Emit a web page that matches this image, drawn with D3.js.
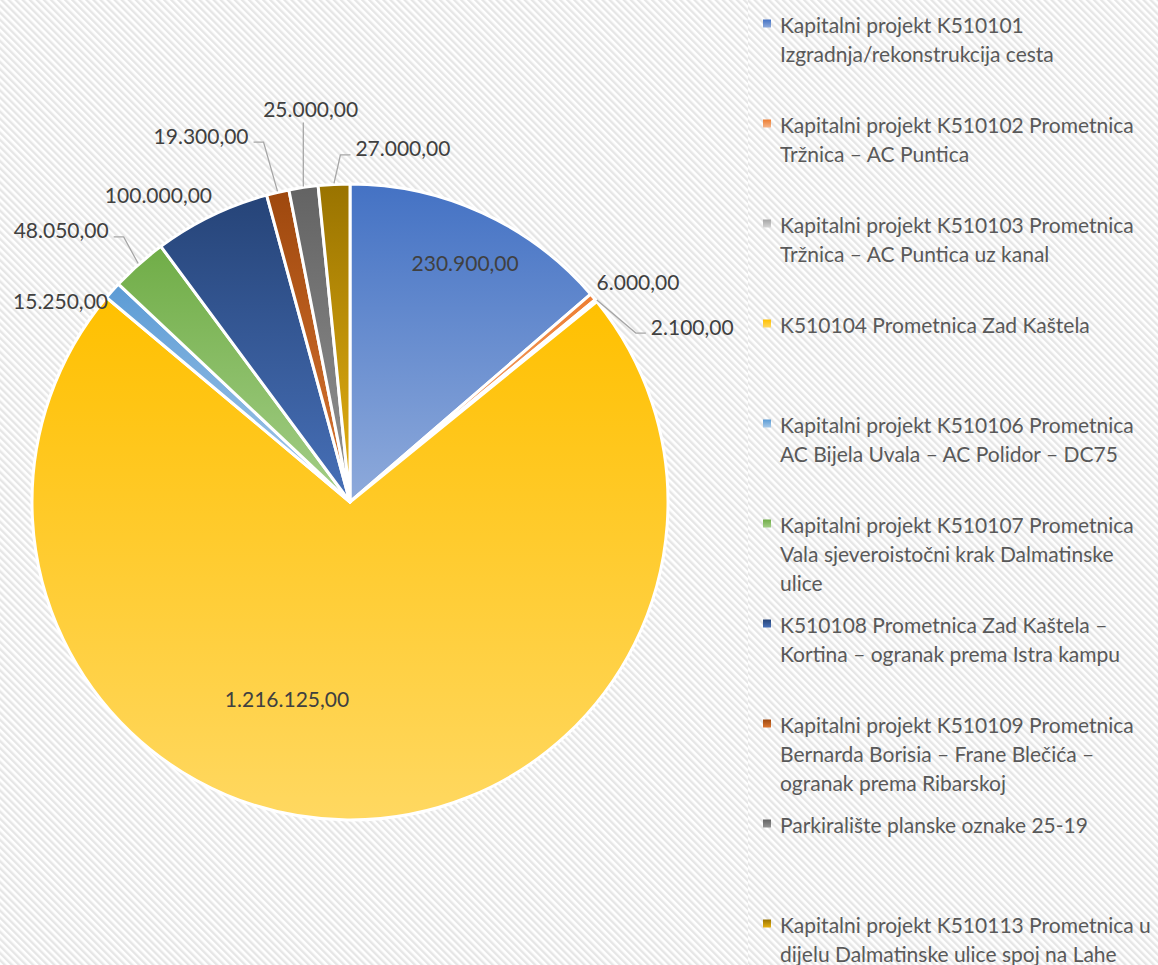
<!DOCTYPE html>
<html>
<head>
<meta charset="utf-8">
<script src="https://cdn.jsdelivr.net/npm/d3@7"></script>
<style>
  body { margin: 0; background: #fff; }
  svg { display: block; }
</style>
</head>
<body>
<div id="chart-container"></div>
<script>
const width = 1158;
const height = 965;

// Data.
const categories = [
    "Kapitalni projekt K510101 Izgradnja/rekonstrukcija cesta",
    "Kapitalni projekt K510102 Prometnica Tržnica – AC Puntica",
    "Kapitalni projekt K510103 Prometnica Tržnica – AC Puntica uz kanal",
    "K510104 Prometnica Zad Kaštela",
    "Kapitalni projekt K510106 Prometnica AC Bijela Uvala – AC Polidor – DC75",
    "Kapitalni projekt K510107 Prometnica Vala sjeveroistočni krak Dalmatinske ulice",
    "K510108 Prometnica Zad Kaštela – Kortina – ogranak prema Istra kampu",
    "Kapitalni projekt K510109 Prometnica Bernarda Borisia – Frane Blečića – ogranak prema Ribarskoj",
    "Parkiralište planske oznake 25-19",
    "Kapitalni projekt K510113 Prometnica u dijelu Dalmatinske ulice spoj na Lahe"
];
const values = [230900, 6000, 2100, 1216125, 15250, 48050, 100000, 19300, 25000, 27000];
const colors = ["#4472C4", "#ED7D31", "#A5A5A5", "#FFC000", "#5B9BD5",
                "#70AD47", "#264478", "#9E480E", "#636363", "#997300"];

// Label placement: angle (deg, clockwise from 12 o'clock), radius factor, leader line.
const labelAngle = [25.7, 52.6, 62.8, 197.8, 304.9, 313.3, 328.1, 337.9, 354.3, 8.5];
const labelRadius = [0.835, 1.14, 1.21, 0.648, 1.11, 1.248, 1.14, 1.245, 1.245, 1.126];
const labelLeader = [false, false, true, false, false, true, false, true, true, true];

const fmt = d3.formatLocale({ decimal: ",", thousands: ".", grouping: [3], currency: ["", ""] })
    .format(",.2f");

const svg = d3.select("#chart-container")
    .append("svg")
    .attr("width", width)
    .attr("height", height)
    .style("font-family", "Lato, 'Open Sans', sans-serif");

const defs = svg.append("defs");

// Hatched background.
function addHatch(id, shift) {
    const p = defs.append("pattern")
        .attr("id", id)
        .attr("patternUnits", "userSpaceOnUse")
        .attr("width", 5)
        .attr("height", 5)
        .attr("patternTransform", `rotate(-45) translate(${shift},0)`);
    p.append("rect").attr("width", 5).attr("height", 5).attr("fill", "#ffffff");
    p.append("rect").attr("width", 2.4).attr("height", 5).attr("fill", "#e6e6e6");
}
addHatch("hatch", 0);
addHatch("hatch2", 2.5);

svg.append("rect").attr("width", width).attr("height", height).attr("fill", "url(#hatch)");
svg.append("rect").attr("x", 748).attr("width", width - 748).attr("height", height)
    .attr("fill", "url(#hatch2)");

// Per-slice vertical gradients, darker on top.
colors.forEach((c, i) => {
    const light = d3.hsl(c);
    light.l = Math.min(0.9, light.l + 0.19);
    if (light.l < 0.55) light.s *= 0.85;
    const g = defs.append("linearGradient")
        .attr("id", "grad" + i)
        .attr("x1", 0).attr("y1", 0).attr("x2", 0).attr("y2", 1);
    g.append("stop").attr("offset", "0%").attr("stop-color", c);
    g.append("stop").attr("offset", "100%").attr("stop-color", light.formatHex());
});

const cx = 350, cy = 502, radius = 318;

const pie = d3.pie().sort(null).value((d) => d)(values);
const arc = d3.arc().innerRadius(0).outerRadius(radius);

const g = svg.append("g").attr("transform", `translate(${cx},${cy})`);

g.selectAll(".slice")
    .data(pie)
    .enter()
    .append("path")
    .attr("class", "slice")
    .attr("d", arc)
    .attr("fill", (d, i) => `url(#grad${i})`)
    .attr("stroke", "#ffffff")
    .attr("stroke-width", 3)
    .attr("stroke-linejoin", "round");

// Data labels.
const polar = (deg, r) => {
    const a = deg * Math.PI / 180;
    return [r * Math.sin(a), -r * Math.cos(a)];
};

const labels = g.selectAll(".label")
    .data(pie)
    .enter()
    .append("text")
    .attr("class", "label")
    .attr("x", (d, i) => polar(labelAngle[i], labelRadius[i] * radius)[0])
    .attr("y", (d, i) => polar(labelAngle[i], labelRadius[i] * radius)[1])
    .attr("text-anchor", "middle")
    .attr("dominant-baseline", "central")
    .attr("fill", "#404040")
    .style("font-size", "21px")
    .text((d) => fmt(d.value));

// Leader lines.
labels.each(function (d, i) {
    if (!labelLeader[i]) return;
    const box = this.getBBox();
    const mid = (d.startAngle + d.endAngle) / 2 * 180 / Math.PI;
    const [px, py] = polar(mid, radius + 1);
    const lcx = box.x + box.width / 2;
    let pts;
    if (Math.abs(px - lcx) < box.width / 2 - 10) {
        pts = [[px, box.y + box.height + 2], [px, py]];
    } else if (px > lcx) {
        const ax = box.x + box.width + 5, ay = box.y + box.height / 2 + 7;
        pts = [[ax, ay], [ax + 10, ay], [px, py]];
    } else {
        const ax = box.x - 5, ay = box.y + box.height / 2 + 7;
        pts = [[ax, ay], [ax - 10, ay], [px, py]];
    }
    g.append("path")
        .attr("d", d3.line()(pts))
        .attr("fill", "none")
        .attr("stroke", "#a6a6a6")
        .attr("stroke-width", 1.3);
});

// Legend.
const legend = svg.append("g")
    .attr("transform", "translate(763,24)")
    .style("font-size", "21px")
    .attr("fill", "#595959");

const maxTextWidth = 375;
const lineHeight = 29;

categories.forEach((name, i) => {
    const item = legend.append("g").attr("transform", `translate(0,${i * 100})`);
    item.append("rect")
        .attr("x", 0).attr("y", -4.5)
        .attr("width", 8).attr("height", 8)
        .attr("fill", `url(#grad${i})`);
    const text = item.append("text")
        .attr("x", 17)
        .attr("dominant-baseline", "central");
    const words = name.split(" ");
    let line = [];
    let lineNo = 0;
    let tspan = text.append("tspan").attr("x", 17).attr("y", 0);
    words.forEach((w) => {
        line.push(w);
        tspan.text(line.join(" "));
        if (tspan.node().getComputedTextLength() > maxTextWidth && line.length > 1) {
            line.pop();
            tspan.text(line.join(" "));
            line = [w];
            lineNo++;
            tspan = text.append("tspan").attr("x", 17).attr("y", lineNo * lineHeight).text(w);
        }
    });
});
</script>
</body>
</html>
